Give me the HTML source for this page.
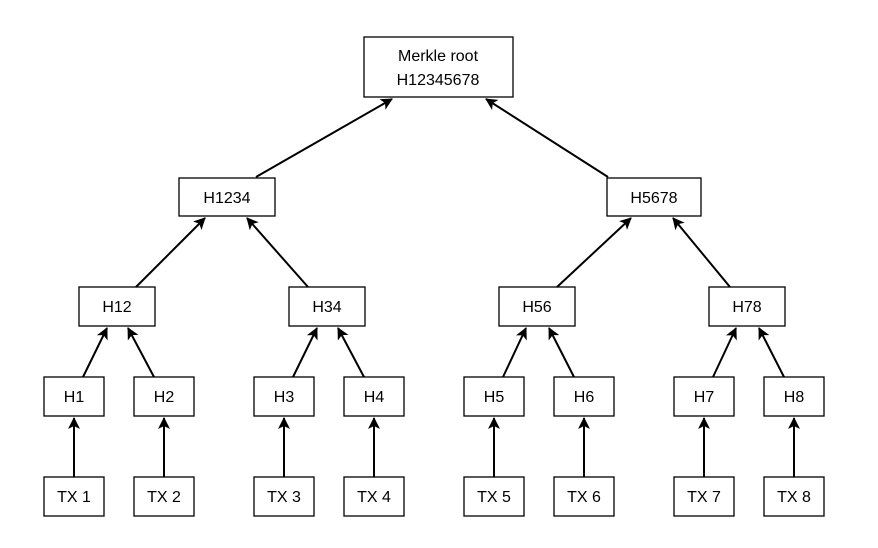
<!DOCTYPE html>
<html><head><meta charset="utf-8"><style>
html,body{margin:0;padding:0;background:#fff;}
svg{display:block;}
text{font-family:"Liberation Sans",sans-serif;font-size:16px;fill:#000;}
</style></head><body>
<svg width="878" height="548" viewBox="0 0 878 548" xmlns="http://www.w3.org/2000/svg">
<defs><marker id="a" markerWidth="12" markerHeight="12" refX="11" refY="6" orient="auto" markerUnits="userSpaceOnUse"><path d="M0,0 L12,6 L0,12 L3,6 Z" fill="#000"/></marker></defs>
<g fill="#fff" stroke="#000" stroke-width="1.3">
<rect x="364" y="37" width="149" height="60"/>
<rect x="179" y="178" width="96" height="38"/>
<rect x="607" y="178" width="94" height="38"/>
<rect x="79" y="287" width="76" height="39"/>
<rect x="289" y="287" width="76" height="39"/>
<rect x="499" y="287" width="76" height="39"/>
<rect x="709" y="287" width="76" height="39"/>
<rect x="44" y="377" width="60" height="39"/><rect x="134" y="377" width="60" height="39"/>
<rect x="254" y="377" width="60" height="39"/><rect x="344" y="377" width="60" height="39"/>
<rect x="464" y="377" width="60" height="39"/><rect x="554" y="377" width="60" height="39"/>
<rect x="674" y="377" width="60" height="39"/><rect x="764" y="377" width="60" height="39"/>
<rect x="44" y="477" width="60" height="39"/><rect x="134" y="477" width="60" height="39"/>
<rect x="254" y="477" width="60" height="39"/><rect x="344" y="477" width="60" height="39"/>
<rect x="464" y="477" width="60" height="39"/><rect x="554" y="477" width="60" height="39"/>
<rect x="674" y="477" width="60" height="39"/><rect x="764" y="477" width="60" height="39"/>
</g>
<g stroke="#000" stroke-width="2" marker-end="url(#a)">
<line x1="256" y1="177" x2="392" y2="99"/>
<line x1="608" y1="177" x2="486" y2="99"/>
<line x1="136" y1="287" x2="205" y2="218"/>
<line x1="308" y1="287" x2="247" y2="218"/>
<line x1="557" y1="287" x2="631" y2="218"/>
<line x1="730" y1="287" x2="673" y2="218"/>
<line x1="83" y1="377" x2="107" y2="328"/>
<line x1="154" y1="377" x2="128" y2="328"/>
<line x1="293" y1="377" x2="317" y2="328"/>
<line x1="364" y1="377" x2="338" y2="328"/>
<line x1="503" y1="377" x2="526" y2="328"/>
<line x1="574" y1="377" x2="549" y2="328"/>
<line x1="713" y1="377" x2="736" y2="328"/>
<line x1="784" y1="377" x2="759" y2="328"/>
<line x1="74" y1="477" x2="74" y2="418"/>
<line x1="164" y1="477" x2="164" y2="418"/>
<line x1="284" y1="477" x2="284" y2="418"/>
<line x1="374" y1="477" x2="374" y2="418"/>
<line x1="494" y1="477" x2="494" y2="418"/>
<line x1="584" y1="477" x2="584" y2="418"/>
<line x1="704" y1="477" x2="704" y2="418"/>
<line x1="794" y1="477" x2="794" y2="418"/>
</g>
<g text-anchor="middle">
<text x="438" y="61">Merkle root</text>
<text x="438" y="85">H12345678</text>
<text x="227" y="203">H1234</text>
<text x="654" y="203">H5678</text>
<text x="117" y="312">H12</text><text x="327" y="312">H34</text>
<text x="537" y="312">H56</text><text x="747" y="312">H78</text>
<text x="74" y="402">H1</text><text x="164" y="402">H2</text>
<text x="284" y="402">H3</text><text x="374" y="402">H4</text>
<text x="494" y="402">H5</text><text x="584" y="402">H6</text>
<text x="704" y="402">H7</text><text x="794" y="402">H8</text>
<text x="74" y="502">TX 1</text><text x="164" y="502">TX 2</text>
<text x="284" y="502">TX 3</text><text x="374" y="502">TX 4</text>
<text x="494" y="502">TX 5</text><text x="584" y="502">TX 6</text>
<text x="704" y="502">TX 7</text><text x="794" y="502">TX 8</text>
</g>
</svg>
</body></html>
